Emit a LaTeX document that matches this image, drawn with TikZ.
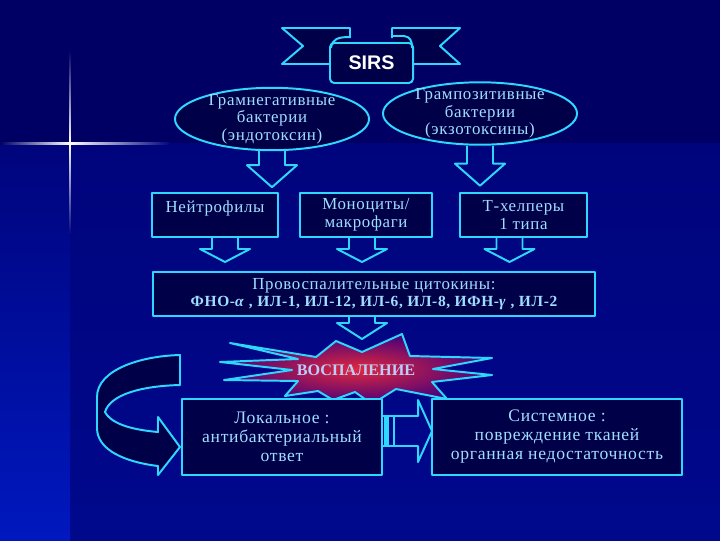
\documentclass[tikz,border=0pt]{standalone}
\usepackage{fontspec}
\setmainfont{Liberation Serif}
\newfontfamily\slidefont[LetterSpace=4]{Liberation Serif}
\newfontfamily\sirsfont{Liberation Sans}
\definecolor{bgtop}{RGB}{0,0,100}
\definecolor{bgmid}{RGB}{0,4,124}
\definecolor{bgbot}{RGB}{0,8,140}
\definecolor{bgstrip}{RGB}{0,24,190}
\definecolor{boxfill}{RGB}{0,0,72}
\definecolor{cyanline}{RGB}{45,215,255}
\definecolor{txtblue}{RGB}{160,222,255}
\definecolor{burstred}{RGB}{225,40,60}
\definecolor{burstedge}{RGB}{70,0,125}
\usetikzlibrary{calc,shapes.geometric}

\begin{document}
\begin{tikzpicture}[x=0.025cm,y=-0.025cm,
  line/.style={draw=cyanline,line width=1.4pt,line join=round},
  txt/.style={text=txtblue,align=center,font=\slidefont\fontsize{12}{12.5}\selectfont},
  bigtxt/.style={text=txtblue,align=center,font=\slidefont\fontsize{12.5}{13.5}\selectfont},
  ovalbox/.style={ellipse,line,fill=boxfill,minimum width=4.85cm,minimum height=1.56cm},
  cellbox/.style={rectangle,line,fill=boxfill,minimum height=1.1cm,txt},
  resbox/.style={rectangle,line,fill=boxfill,minimum height=1.9cm,bigtxt},
  pics/downarr/.style 2 args={code={
    \draw[line] (-13,0) -- (-13,#1) -- (-25,#1) -- (0,#1+#2) -- (25,#1) -- (13,#1) -- (13,0);}},
  pics/rightarr/.style={code={
    \draw[line] (0,-15) -- (35,-15) -- (35,-31) -- (49,0) -- (35,31) -- (35,15) -- (0,15);
    \fill[cyanline] (1,-15) rectangle (6,15);
    \draw[line] (11,-15) -- (11,15);}}]
  % background and sparkle
  \fill[bgtop] (0,0) rectangle (720,143);
  \shade[top color=bgmid,bottom color=bgbot] (0,143) rectangle (720,540);
  \shade[top color=bgmid,bottom color=bgstrip] (0,143) rectangle (70,540);
  \shade[left color=bgtop,right color=white] (0,142) rectangle (70,144);
  \shade[left color=white,right color=bgmid] (70,142) rectangle (170,144);
  \shade[top color=bgtop,bottom color=white] (69.2,50) rectangle (70.8,143);
  \shade[top color=white,bottom color=bgmid] (69.2,143) rectangle (70.8,235);
  % SIRS banner
  \draw[line,fill=boxfill] (350,38) -- (350,28) -- (282,28) -- (303,46) -- (282,64) -- (330,64);
  \draw[line,fill=boxfill] (392,38) -- (392,28) -- (460,28) -- (440,46) -- (460,64) -- (413,64);
  \node[line,fill=boxfill,rounded corners=3pt,minimum width=2.075cm,minimum height=1cm,
    text=white,font=\sirsfont\bfseries\fontsize{14}{16}\selectfont] (sirs) at (371.5,63) {SIRS};
  \draw[line] (331,48) .. controls (332,39) and (338,37) .. (350,37) -- (350,28);
  \draw[line] (392,28) -- (392,36) -- (404,36) .. controls (410,37) and (412,40) .. (412,48);
  % bacteria
  \node[ovalbox] (gneg) at (272,119) {};
  \node[txt] (gnegtxt) at (gneg) {Грамнегативные\\бактерии\\(эндотоксин)};
  \node[ovalbox] (gpos) at (480,113.5) {};
  \node[txt] (gpostxt) at (gpos) {Грампозитивные\\бактерии\\(экзотоксины)};
  \pic at (gneg.south) {downarr={14}{22}};
  \pic at (gpos.south) {downarr={18}{22}};
  % cells
  \node[cellbox,minimum width=3.15cm] (neut) at (215,215) {Нейтрофилы\\\mbox{}};
  \node[cellbox,minimum width=3.3cm] (mono) at (366,215) {Моноциты/\\макрофаги};
  \node[cellbox,minimum width=3.175cm] (thelp) at (523.5,215) {Т-хелперы\\1 типа};
  \pic at ($(neut.south)+(10,0)$) {downarr={11}{13}};
  \pic at ($(mono.south)+(-4,0)$) {downarr={11}{13}};
  \pic at ($(thelp.south)+(-14,0)$) {downarr={11}{13}};
  % cytokines
  \node[cellbox,minimum width=11.05cm] (cyto) at (374,294)
    {Провоспалительные цитокины:\\{\bfseries\fontsize{11}{12.5}\selectfont ФНО-\textit{α} , ИЛ-1, ИЛ-12, ИЛ-6, ИЛ-8, ИФН-\textit{γ} , ИЛ-2}};
  \pic at ($(cyto.south)+(-12,0)$) {downarr={6}{16}};
  % inflammation burst
  \shadedraw[line,inner color=burstred,outer color=burstedge]
    (230,343) -- (316,357) -- (336,341) -- (362,352) -- (402,334) -- (410,356)
    -- (492,358) -- (433,369) -- (492,375) -- (432,382) -- (447,399) -- (396,389)
    -- (372,404) -- (355,392) -- (333,400) -- (318,391) -- (285,396) -- (298,381)
    -- (224,380) -- (292,370) -- (220,362) -- (298,359) -- cycle;
  \node[text={rgb,255:red,185;green,205;blue,255},font=\bfseries\fontsize{11.5}{13}\selectfont] (infl) at (356,370) {ВОСПАЛЕНИЕ};
  % outcomes
  \node[resbox,minimum width=5cm] (local) at (282,437) {Локальное :\\антибактериальный\\ответ};
  \node[resbox,minimum width=6.25cm] (syst) at (557,437) {Системное :\\повреждение тканей\\органная недостаточность};
  \pic at ($(local.east)+(0,-6)$) {rightarr};
  \draw[line,fill=boxfill] (180,355) -- (180,385) .. controls (140,386) and (110,395) .. (105,412)
    .. controls (112,425) and (135,430) .. (158,432) -- (158,417) -- (180,447) -- (158,475)
    -- (158,466) .. controls (125,462) and (97,450) .. (97,428) -- (97,397)
    .. controls (97,370) and (140,356) .. (180,355) -- cycle;
\end{tikzpicture}
\end{document}
